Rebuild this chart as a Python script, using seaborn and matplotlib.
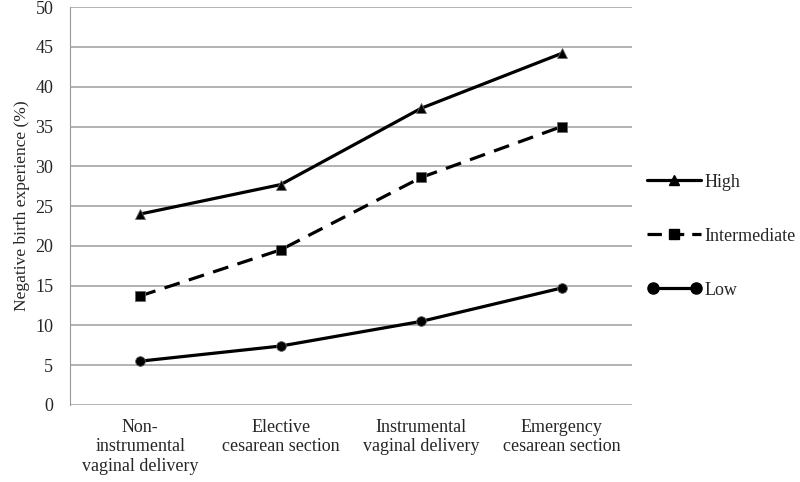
import numpy as np
import pandas as pd
import matplotlib
matplotlib.use("Agg")
import matplotlib.pyplot as plt
import seaborn as sns
from matplotlib.legend_handler import HandlerLine2D

# ── Data ──────────────────────────────────────────────────────────────────────
categories = ["Non-\ninstrumental\nvaginal delivery", "Elective\ncesarean section",
              "Instrumental\nvaginal delivery", "Emergency\ncesarean section"]
high         = [24.0, 27.7, 37.3, 44.2]
intermediate = [13.7, 19.5, 28.6, 35.0]
low          = [5.5, 7.4, 10.5, 14.7]
groups = ["High", "Intermediate", "Low"]

df = pd.DataFrame({
    "delivery": categories * 3,
    "pos": list(range(len(categories))) * 3,
    "value": high + intermediate + low,
    "group": np.repeat(groups, len(categories)),
})

sns.set_style("white")
plt.rcParams["font.family"] = ["Liberation Serif", "DejaVu Serif"]

fig = plt.figure(figsize=(8, 4.82), dpi=100)
ax = fig.add_axes([0.0875, 0.16, 0.7025, 0.825])

sns.lineplot(data=df, x="pos", y="value", hue="group", style="group",
             palette={g: "black" for g in groups},
             markers={"High": "^", "Intermediate": "s", "Low": "o"},
             dashes={"High": "", "Intermediate": (5, 3), "Low": ""},
             markersize=7, linewidth=2.3, markeredgecolor="#666666",
             markeredgewidth=0.6, ax=ax, legend=False)

ax.set_xlim(-0.5, len(categories) - 0.5)
ax.set_ylim(0, 50)
ax.set_yticks(range(0, 51, 5))
ax.set_xticks(range(len(categories)))
ax.set_xticklabels(categories, fontsize=13, linespacing=1.2)
ax.tick_params(axis="y", labelsize=13, length=4, color="#999999", pad=8)
ax.tick_params(axis="x", length=0, pad=10)
ax.set_xlabel("")
ax.set_ylabel("Negative birth experience (%)", fontsize=12.5, labelpad=4)
ax.yaxis.grid(True, color="#A6A6A6", linewidth=1.2)
ax.set_axisbelow(True)
for side in ("top", "right", "bottom"):
    ax.spines[side].set_visible(False)
ax.spines["left"].set_color("#999999")

# legend
styles = {"High": ("^", "-"), "Intermediate": ("s", "--"), "Low": ("o", "-")}
handles = []
for g in groups:
    mk, ls = styles[g]
    h = plt.Line2D([], [], color="black", linewidth=2.3, marker=mk,
                   markersize=6.5 if g != "Low" else 8, linestyle=ls)
    if g == "Intermediate":
        h.set_dashes((4.5, 2.5))
    handles.append(h)
fig.legend(handles, groups, loc="center left", bbox_to_anchor=(0.8, 0.51),
           frameon=False, fontsize=13, handlelength=3.0, handletextpad=0.15,
           labelspacing=2.05, numpoints=1, borderaxespad=0,
           handler_map={handles[2]: HandlerLine2D(numpoints=2)})

fig.savefig("out.png", dpi=100)
